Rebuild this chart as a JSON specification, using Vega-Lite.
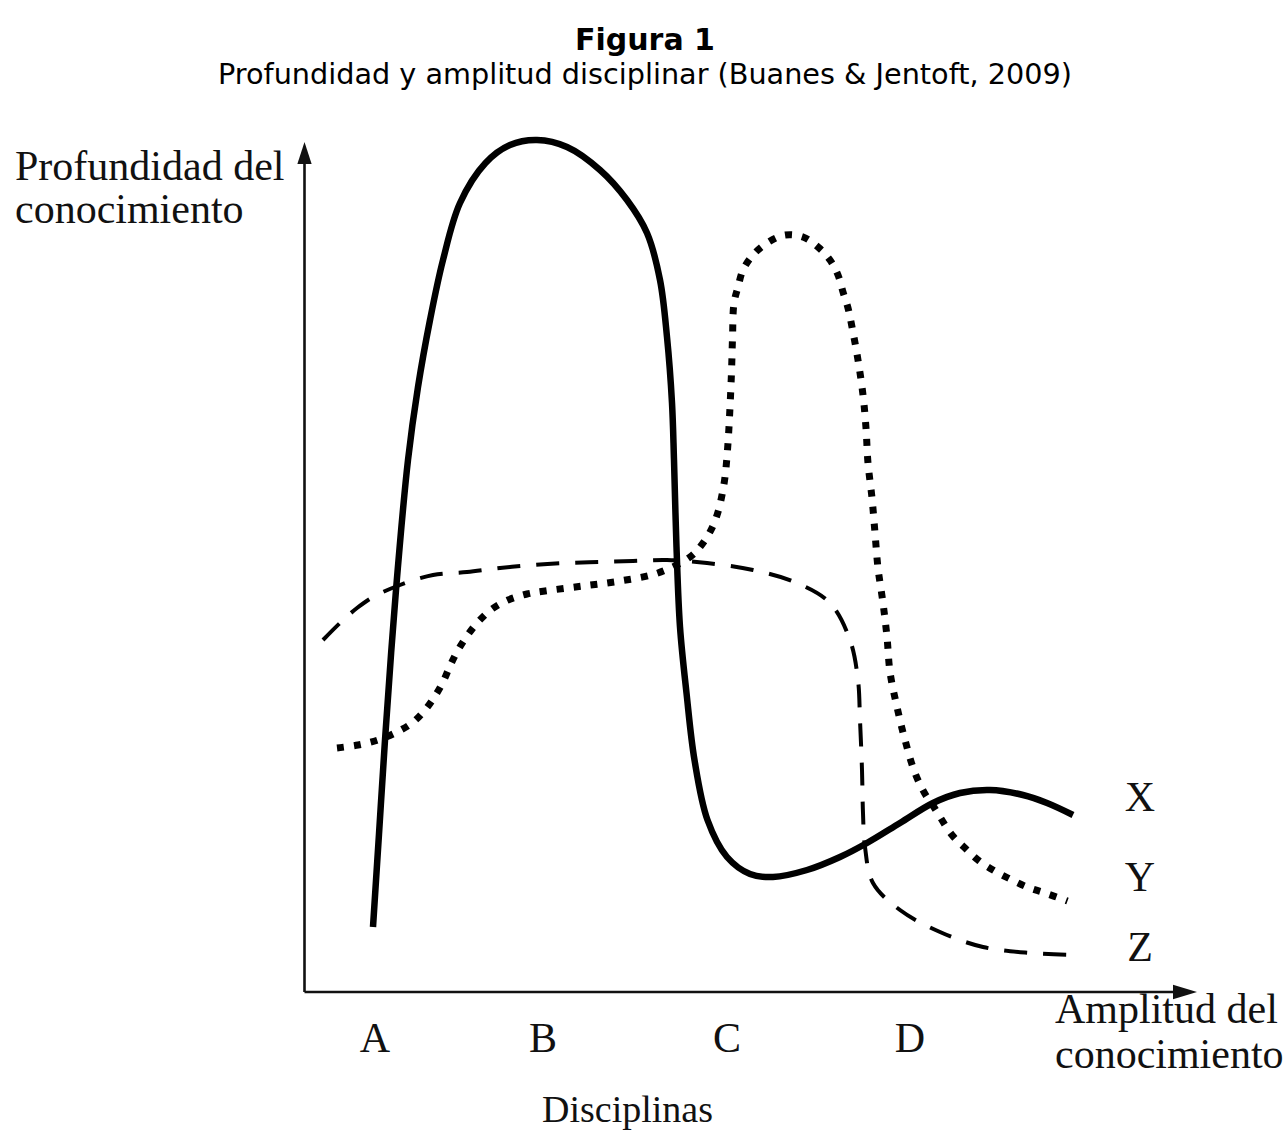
{
  "$schema": "https://vega.github.io/schema/vega-lite/v6.json",
  "width": 1288,
  "height": 1130,
  "autosize": {"type": "none"},
  "padding": 0,
  "background": "white",
  "config": {"view": {"stroke": null}},
  "datasets": {
    "axes": [
      {"x": 0, "y": 0, "x2": 87.2, "y2": 0},
      {"x": 0, "y": 0, "x2": 0, "y2": 83.0}
    ],
    "arrowY": [{"x": 0, "y": 83.9}],
    "arrowX": [{"x": 88.05, "y": 0}],
    "X": [
      {"o": 1, "x": 6.85, "y": 6.5},
      {"o": 2, "x": 7.45, "y": 15.8},
      {"o": 3, "x": 8.05, "y": 25.2},
      {"o": 4, "x": 9.15, "y": 40.2},
      {"o": 5, "x": 10.35, "y": 53.2},
      {"o": 6, "x": 11.35, "y": 60.5},
      {"o": 7, "x": 12.55, "y": 67.2},
      {"o": 8, "x": 13.85, "y": 73.2},
      {"o": 9, "x": 15.55, "y": 78.9},
      {"o": 10, "x": 18.1, "y": 82.9},
      {"o": 11, "x": 20.55, "y": 84.7},
      {"o": 12, "x": 23.25, "y": 85.2},
      {"o": 13, "x": 26.25, "y": 84.5},
      {"o": 14, "x": 29.55, "y": 82.2},
      {"o": 15, "x": 32.25, "y": 79.2},
      {"o": 16, "x": 34.25, "y": 75.9},
      {"o": 17, "x": 35.55, "y": 71.2},
      {"o": 18, "x": 36.25, "y": 65.5},
      {"o": 19, "x": 36.75, "y": 58.9},
      {"o": 20, "x": 36.95, "y": 53.2},
      {"o": 21, "x": 37.2, "y": 44.5},
      {"o": 22, "x": 37.55, "y": 36.5},
      {"o": 23, "x": 38.2, "y": 29.9},
      {"o": 24, "x": 39.0, "y": 23.2},
      {"o": 25, "x": 40.3, "y": 17.2},
      {"o": 26, "x": 42.25, "y": 13.5},
      {"o": 27, "x": 44.55, "y": 11.8},
      {"o": 28, "x": 46.85, "y": 11.5},
      {"o": 29, "x": 50.25, "y": 12.2},
      {"o": 30, "x": 53.55, "y": 13.5},
      {"o": 31, "x": 56.25, "y": 14.9},
      {"o": 32, "x": 59.55, "y": 16.9},
      {"o": 33, "x": 62.85, "y": 18.9},
      {"o": 34, "x": 65.55, "y": 19.9},
      {"o": 35, "x": 68.55, "y": 20.2},
      {"o": 36, "x": 71.85, "y": 19.7},
      {"o": 37, "x": 74.25, "y": 18.9},
      {"o": 38, "x": 76.85, "y": 17.7}
    ],
    "Y": [
      {"o": 1, "x": 3.25, "y": 24.4},
      {"o": 2, "x": 5.35, "y": 24.7},
      {"o": 3, "x": 7.35, "y": 25.2},
      {"o": 4, "x": 9.05, "y": 25.9},
      {"o": 5, "x": 10.75, "y": 26.9},
      {"o": 6, "x": 12.05, "y": 28.2},
      {"o": 7, "x": 13.05, "y": 29.6},
      {"o": 8, "x": 13.85, "y": 31.0},
      {"o": 9, "x": 14.55, "y": 32.6},
      {"o": 10, "x": 15.3, "y": 34.1},
      {"o": 11, "x": 16.25, "y": 35.6},
      {"o": 12, "x": 17.35, "y": 37.0},
      {"o": 13, "x": 18.75, "y": 38.3},
      {"o": 14, "x": 20.35, "y": 39.2},
      {"o": 15, "x": 22.25, "y": 39.8},
      {"o": 16, "x": 24.05, "y": 40.1},
      {"o": 17, "x": 27.85, "y": 40.6},
      {"o": 18, "x": 31.55, "y": 41.1},
      {"o": 19, "x": 35.35, "y": 41.9},
      {"o": 20, "x": 38.55, "y": 43.5},
      {"o": 21, "x": 39.85, "y": 44.9},
      {"o": 22, "x": 40.75, "y": 46.4},
      {"o": 23, "x": 41.35, "y": 48.0},
      {"o": 24, "x": 41.75, "y": 49.7},
      {"o": 25, "x": 42.05, "y": 51.5},
      {"o": 26, "x": 42.35, "y": 54.9},
      {"o": 27, "x": 42.55, "y": 58.5},
      {"o": 28, "x": 42.7, "y": 62.0},
      {"o": 29, "x": 42.8, "y": 65.4},
      {"o": 30, "x": 42.95, "y": 68.9},
      {"o": 31, "x": 43.35, "y": 70.5},
      {"o": 32, "x": 43.85, "y": 72.2},
      {"o": 33, "x": 44.85, "y": 73.7},
      {"o": 34, "x": 46.25, "y": 74.9},
      {"o": 35, "x": 48.05, "y": 75.7},
      {"o": 36, "x": 49.85, "y": 75.5},
      {"o": 37, "x": 51.35, "y": 74.5},
      {"o": 38, "x": 52.55, "y": 73.2},
      {"o": 39, "x": 53.35, "y": 71.7},
      {"o": 40, "x": 53.85, "y": 70.0},
      {"o": 41, "x": 54.35, "y": 68.4},
      {"o": 42, "x": 54.75, "y": 66.5},
      {"o": 43, "x": 55.35, "y": 63.2},
      {"o": 44, "x": 55.85, "y": 59.7},
      {"o": 45, "x": 56.15, "y": 56.4},
      {"o": 46, "x": 56.35, "y": 52.9},
      {"o": 47, "x": 56.75, "y": 49.4},
      {"o": 48, "x": 57.05, "y": 45.9},
      {"o": 49, "x": 57.35, "y": 42.4},
      {"o": 50, "x": 57.85, "y": 38.9},
      {"o": 51, "x": 58.25, "y": 35.5},
      {"o": 52, "x": 58.55, "y": 32.0},
      {"o": 53, "x": 59.25, "y": 28.5},
      {"o": 54, "x": 60.05, "y": 25.2},
      {"o": 55, "x": 61.05, "y": 21.9},
      {"o": 56, "x": 62.0, "y": 19.9},
      {"o": 57, "x": 63.0, "y": 18.4},
      {"o": 58, "x": 64.75, "y": 15.7},
      {"o": 59, "x": 66.05, "y": 14.4},
      {"o": 60, "x": 67.35, "y": 13.2},
      {"o": 61, "x": 68.85, "y": 12.2},
      {"o": 62, "x": 70.35, "y": 11.4},
      {"o": 63, "x": 72.25, "y": 10.5},
      {"o": 64, "x": 74.05, "y": 9.9},
      {"o": 65, "x": 76.3, "y": 9.1}
    ],
    "Z": [
      {"o": 1, "x": 1.85, "y": 35.2},
      {"o": 2, "x": 3.55, "y": 36.9},
      {"o": 3, "x": 5.25, "y": 38.4},
      {"o": 4, "x": 6.85, "y": 39.5},
      {"o": 5, "x": 9.55, "y": 40.7},
      {"o": 6, "x": 12.85, "y": 41.7},
      {"o": 7, "x": 16.25, "y": 42.0},
      {"o": 8, "x": 19.55, "y": 42.4},
      {"o": 9, "x": 22.85, "y": 42.7},
      {"o": 10, "x": 26.25, "y": 42.9},
      {"o": 11, "x": 29.55, "y": 43.0},
      {"o": 12, "x": 32.85, "y": 43.1},
      {"o": 13, "x": 36.25, "y": 43.2},
      {"o": 14, "x": 40.25, "y": 42.9},
      {"o": 15, "x": 44.85, "y": 42.2},
      {"o": 16, "x": 49.25, "y": 40.9},
      {"o": 17, "x": 52.55, "y": 38.9},
      {"o": 18, "x": 54.55, "y": 35.2},
      {"o": 19, "x": 55.35, "y": 31.2},
      {"o": 20, "x": 55.55, "y": 27.2},
      {"o": 21, "x": 55.75, "y": 22.2},
      {"o": 22, "x": 55.85, "y": 17.9},
      {"o": 23, "x": 56.05, "y": 14.5},
      {"o": 24, "x": 56.85, "y": 10.9},
      {"o": 25, "x": 59.55, "y": 8.2},
      {"o": 26, "x": 63.55, "y": 6.0},
      {"o": 27, "x": 67.85, "y": 4.5},
      {"o": 28, "x": 72.55, "y": 3.9},
      {"o": 29, "x": 77.05, "y": 3.7}
    ],
    "title": [{"x": 34.05, "y": 94.2, "t": "Figura 1"}],
    "subtitle": [{"x": 34.05, "y": 90.8, "t": "Profundidad y amplitud disciplinar (Buanes & Jentoft, 2009)"}],
    "axisLabels": [
      {"x": -28.95, "y": 81.2, "t": "Profundidad del"},
      {"x": -28.95, "y": 76.9, "t": "conocimiento"},
      {"x": 75.05, "y": -3.1, "t": "Amplitud del"},
      {"x": 75.05, "y": -7.6, "t": "conocimiento"}
    ],
    "letters": [
      {"x": 7.05, "y": -6.0, "t": "A"},
      {"x": 23.85, "y": -6.0, "t": "B"},
      {"x": 42.25, "y": -6.0, "t": "C"},
      {"x": 60.55, "y": -6.0, "t": "D"}
    ],
    "disc": [{"x": 32.3, "y": -13.0, "t": "Disciplinas"}],
    "series": [
      {"x": 83.55, "y": 19.4, "t": "X"},
      {"x": 83.55, "y": 11.4, "t": "Y"},
      {"x": 83.55, "y": 4.4, "t": "Z"}
    ]
  },
  "encoding": {
    "x": {"field": "x", "type": "quantitative", "scale": {"domain": [-30.45, 98.35], "nice": false, "zero": false}, "axis": null},
    "y": {"field": "y", "type": "quantitative", "scale": {"domain": [-13.8, 99.2], "nice": false, "zero": false}, "axis": null}
  },
  "layer": [
    {"data": {"name": "axes"}, "mark": {"type": "rule", "strokeWidth": 2.6, "color": "#111"}, "encoding": {"x2": {"field": "x2"}, "y2": {"field": "y2"}}},
    {"data": {"name": "arrowY"}, "mark": {"type": "point", "shape": "M0,-1L0.65,1L-0.65,1Z", "size": 484, "filled": true, "color": "#111", "opacity": 1}},
    {"data": {"name": "arrowX"}, "mark": {"type": "point", "shape": "M1,0L-1,-0.6L-1,0.6Z", "size": 576, "filled": true, "color": "#111", "opacity": 1}},
    {"data": {"name": "Z"}, "mark": {"type": "line", "interpolate": "catmull-rom", "strokeWidth": 4, "strokeDash": [23, 16], "color": "black"}, "encoding": {"order": {"field": "o", "type": "quantitative"}}},
    {"data": {"name": "Y"}, "mark": {"type": "line", "interpolate": "catmull-rom", "strokeWidth": 7, "strokeDash": [7, 10], "color": "black"}, "encoding": {"order": {"field": "o", "type": "quantitative"}}},
    {"data": {"name": "X"}, "mark": {"type": "line", "interpolate": "catmull-rom", "strokeWidth": 6.5, "color": "black"}, "encoding": {"order": {"field": "o", "type": "quantitative"}}},
    {"data": {"name": "title"}, "mark": {"type": "text", "font": "DejaVu Sans", "fontWeight": "bold", "fontSize": 30, "align": "center", "baseline": "alphabetic", "color": "black"}, "encoding": {"text": {"field": "t"}}},
    {"data": {"name": "subtitle"}, "mark": {"type": "text", "font": "DejaVu Sans", "fontSize": 28.7, "align": "center", "baseline": "alphabetic", "color": "black"}, "encoding": {"text": {"field": "t"}}},
    {"data": {"name": "axisLabels"}, "mark": {"type": "text", "font": "Liberation Serif", "fontSize": 42, "align": "left", "baseline": "alphabetic", "color": "#111"}, "encoding": {"text": {"field": "t"}}},
    {"data": {"name": "letters"}, "mark": {"type": "text", "font": "Liberation Serif", "fontSize": 42, "align": "center", "baseline": "alphabetic", "color": "#111"}, "encoding": {"text": {"field": "t"}}},
    {"data": {"name": "disc"}, "mark": {"type": "text", "font": "Liberation Serif", "fontSize": 38, "align": "center", "baseline": "alphabetic", "color": "#111"}, "encoding": {"text": {"field": "t"}}},
    {"data": {"name": "series"}, "mark": {"type": "text", "font": "Liberation Serif", "fontSize": 42, "align": "center", "baseline": "middle", "color": "#111"}, "encoding": {"text": {"field": "t"}}}
  ]
}
